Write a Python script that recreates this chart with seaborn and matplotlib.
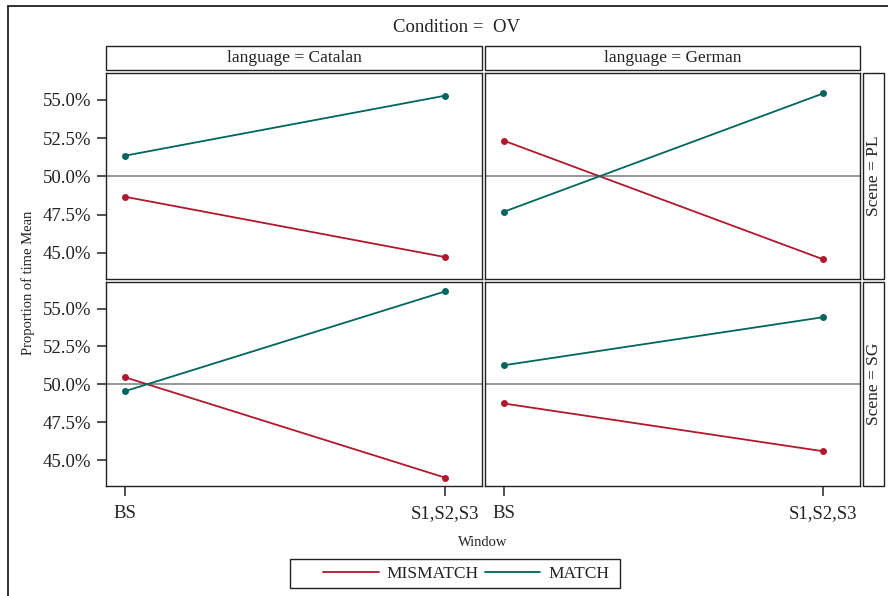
import matplotlib
matplotlib.use("Agg")
import matplotlib.pyplot as plt
from matplotlib.patches import Rectangle
from matplotlib.lines import Line2D
import seaborn as sns
import pandas as pd

# ---- data -------------------------------------------------------------
windows = ["BS", "S1,S2,S3"]
languages = ["Catalan", "German"]
scenes = ["PL", "SG"]
groups = ["MISMATCH", "MATCH"]

# proportion of time (percent), per scene / language / group, over windows
catalan_pl_mismatch = [48.67, 44.73]
catalan_pl_match = [51.35, 55.27]
german_pl_mismatch = [52.33, 44.58]
german_pl_match = [47.69, 55.42]
catalan_sg_mismatch = [50.47, 43.85]
catalan_sg_match = [49.55, 56.13]
german_sg_mismatch = [48.74, 45.59]
german_sg_match = [51.26, 54.43]

y_ticks = [45.0, 47.5, 50.0, 52.5, 55.0]

series = {
    ("PL", "Catalan"): (catalan_pl_mismatch, catalan_pl_match),
    ("PL", "German"): (german_pl_mismatch, german_pl_match),
    ("SG", "Catalan"): (catalan_sg_mismatch, catalan_sg_match),
    ("SG", "German"): (german_sg_mismatch, german_sg_match),
}

rows = []
for (scene, lang), (mis, mat) in series.items():
    for g, vals in zip(groups, (mis, mat)):
        for w, v in zip(windows, vals):
            rows.append(dict(Scene=scene, language=lang, Group=g, Window=w, value=v))
df = pd.DataFrame(rows)

# ---- style ------------------------------------------------------------
sns.set_theme(style="white")
plt.rcParams["font.family"] = ["Liberation Serif", "DejaVu Serif"]
palette = {"MISMATCH": "#B2182B", "MATCH": "#01665E"}
INK = "#222222"
BORDER = 1.0

W, H = 888, 596
fig = plt.figure(figsize=(W / 100, H / 100), dpi=100)


def frac(x0, y0, x1, y1):
    return [x0 / W, 1 - y1 / H, (x1 - x0) / W, (y1 - y0) / H]


def box(x0, y0, x1, y1):
    fig.add_artist(Rectangle((x0 / W, 1 - y1 / H), (x1 - x0) / W, (y1 - y0) / H,
                             transform=fig.transFigure, fill=False,
                             edgecolor=INK, lw=BORDER))


col_x = [(106, 482), (485, 860)]
row_y = [(73, 279), (282, 486)]

for ri, scene in enumerate(scenes):
    for ci, lang in enumerate(languages):
        ax = fig.add_axes(frac(col_x[ci][0], row_y[ri][0], col_x[ci][1], row_y[ri][1]))
        sub = df[(df.Scene == scene) & (df.language == lang)]
        ax.axhline(50, color="#8c8c8c", lw=1.3, zorder=1)
        sns.lineplot(data=sub, x="Window", y="value", hue="Group",
                     hue_order=groups, palette=palette, marker="o",
                     markersize=5, markeredgewidth=0, linewidth=1.3,
                     legend=False, ax=ax, zorder=3)
        ax.set_xlim(-0.059, 1.115)
        ax.set_ylim(43.3, 56.75)
        ax.set_xlabel("")
        ax.set_ylabel("")
        for sp in ax.spines.values():
            sp.set_visible(True)
            sp.set_color(INK)
            sp.set_linewidth(BORDER)
        ax.set_yticks(y_ticks)
        ax.set_xticks([0, 1])
        ax.tick_params(axis="both", which="both", direction="out",
                       color=INK, width=1.1, labelsize=13.5,
                       labelcolor=INK)
        if ci == 0:
            ax.set_yticklabels([f"{t:.1f}%" for t in y_ticks])
            ax.tick_params(axis="y", left=True, length=6.5, pad=4)
        else:
            ax.tick_params(axis="y", left=False, labelleft=False)
        if ri == 1:
            ax.set_xticklabels(windows)
            ax.tick_params(axis="x", bottom=True, length=7, pad=7)
        else:
            ax.tick_params(axis="x", bottom=False, labelbottom=False)

# column strips
for ci, lang in enumerate(languages):
    x0, x1 = col_x[ci]
    box(x0, 46, x1, 70)
    fig.text((x0 + x1) / 2 / W, 1 - 58 / H, f"language = {lang}",
             ha="center", va="center", fontsize=12.5, color=INK)

# row strips
for ri, scene in enumerate(scenes):
    y0, y1 = row_y[ri]
    box(863, y0, 884, y1)
    fig.text(873.5 / W, 1 - (y0 + y1) / 2 / H, f"Scene = {scene}",
             ha="center", va="center", rotation=90, fontsize=12.5,
             color=INK)

# outer frame
fig.add_artist(Line2D([8 / W, 8 / W], [0, 1 - 6 / H], transform=fig.transFigure,
                      color=INK, lw=1.3))
fig.add_artist(Line2D([8 / W, 1], [1 - 6 / H, 1 - 6 / H], transform=fig.transFigure,
                      color=INK, lw=1.3))

# titles and axis labels
fig.text(456 / W, 1 - 27 / H, "Condition =  OV", ha="center", va="center",
         fontsize=13.5, color=INK)
fig.text(483 / W, 1 - 543 / H, "Window", ha="center", va="center",
         fontsize=10.5, color=INK)
fig.text(28 / W, 1 - 283 / H, "Proportion of time Mean", ha="center",
         va="center", rotation=90, fontsize=10.5, color=INK)

# legend
box(290, 559, 620, 588)
handles = [Line2D([], [], color=palette[g], lw=1.3) for g in groups]
fig.legend(handles, groups, loc="center", bbox_to_anchor=(466 / W, 1 - 574 / H),
           ncol=2, frameon=False, fontsize=12.5, handlelength=3.2,
           handletextpad=0.45, columnspacing=0.35, borderpad=0.0,
           labelcolor=INK)

fig.savefig("out.png", dpi=100)
